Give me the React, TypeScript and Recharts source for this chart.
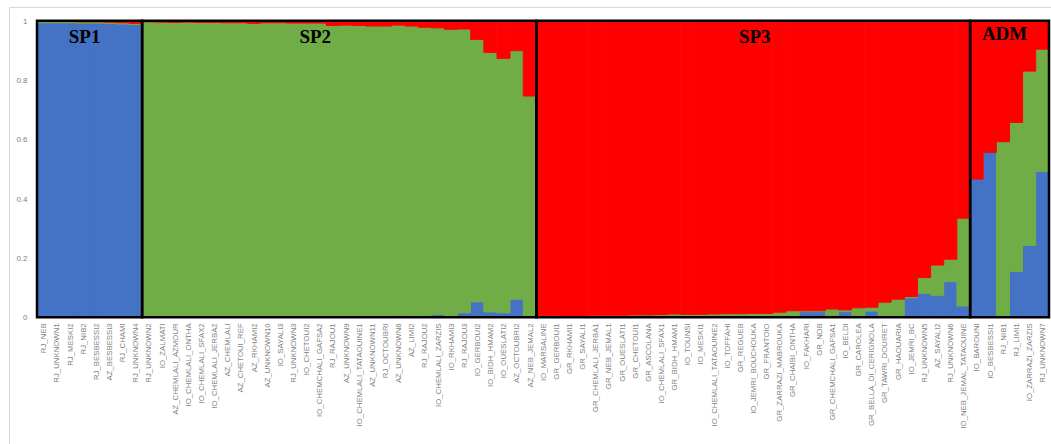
import { BarChart, Bar, XAxis, YAxis, ReferenceArea } from "recharts";

const blue = "#4472C4";
const green = "#70AD47";
const red = "#FF0000";
const tickGray = "#7f7f7f";

// individuals, left to right (SP1 | SP2 | SP3 | ADM)
const sp1Names = [
  "RJ_NEB", "RJ_UNKNOWN1", "RJ_MESKI2", "RJ_NIB2", "RJ_BESBESSI2", "AZ_BESBESSI3", "RJ_CHAMI", "RJ_UNKNOWN4",
];
const sp2Names = [
  "RJ_UNKNOWN2", "IO_ZALMATI", "AZ_CHEMLALI_AZMOUR", "IO_CHEMLALI_ONTHA", "IO_CHEMLALI_SFAX2", "IO_CHEMLALI_JERBA2",
  "AZ_CHEMLALI", "AZ_CHETOUI_REF", "AZ_RKHAMI2", "AZ_UNKNOWN10", "IO_SAYALI3", "RJ_UNKNOWN3", "IO_CHETOUI2",
  "IO_CHEMCHALI_GAFSA2", "RJ_RAJOU1", "AZ_UNKNOWN9", "IO_CHEMLALI_TATAOUINE1", "AZ_UNKNOWN11", "RJ_OCTOUBRI",
  "AZ_UNKNOWN8", "AZ_LIMI2", "RJ_RAJOU2", "IO_CHEMLALI_ZARZIS", "IO_RKHAMI3", "RJ_RAJOU3", "IO_GERBOUI2",
  "IO_BIDH_HMAM2", "IO_OUESLATI2", "AZ_OCTOUBRI2", "AZ_NEB_JEMAL2",
];
const sp3Names = [
  "IO_MARSALINE", "GR_GERBOUI1", "GR_RKHAMI1", "GR_SAYALI1", "GR_CHEMLALI_JERBA1", "GR_NEB_JEMAL1", "GR_OUESLATI1",
  "GR_CHETOUI1", "GR_ASCOLANA", "IO_CHEMLALI_SFAX1", "GR_BIDH_HMAM1", "IO_TOUNSI", "IO_MESKI1",
  "IO_CHEMLALI_TATAOUINE2", "IO_TOFFAHI", "GR_REGUEB", "IO_JEMRI_BOUCHOUKA", "GR_FRANTOIO", "GR_ZARRAZI_MABROUKA",
  "GR_CHAIBI_ONTHA", "IO_FAKHARI", "GR_NDB", "GR_CHEMCHALI_GAFSA1", "IO_BELDI", "GR_CAROLEA", "GR_BELLA_DI_CERIGNOLA",
  "GR_TAWRI_DOUIRET", "GR_HAOUARIA", "IO_JEMRI_BC", "RJ_UNKNOWN5", "AZ_SAYALI2", "RJ_UNKNOWN6", "IO_NEB_JEMAL_TATAOUINE",
];
const admNames = ["IO_BAROUNI", "IO_BESBESSI1", "RJ_NIB1", "RJ_LIMI1", "IO_ZARRAZI_ZARZIS", "RJ_UNKNOWN7"];

// membership coefficients per cluster (K=3)
const cluster1 = [
  0.993, 0.993, 0.993, 0.992, 0.992, 0.991, 0.989, 0.987,
  0.001, 0.001, 0.001, 0.001, 0.001, 0.001, 0.001, 0.001, 0.001, 0.001, 0.001, 0.001, 0.001, 0.002, 0.002,
  0.002, 0.002, 0.002, 0.002, 0.006, 0.003, 0.003, 0.010, 0.004, 0.015, 0.052, 0.018, 0.015, 0.061, 0.003,
  0.001, 0.001, 0.001, 0.001, 0.001, 0.001, 0.001, 0.001, 0.001, 0.001, 0.001, 0.001, 0.001, 0.001, 0.001,
  0.001, 0.001, 0.001, 0.002, 0.002, 0.019, 0.019, 0.002, 0.019, 0.002, 0.021, 0.002, 0.002, 0.066, 0.081,
  0.074, 0.120, 0.038,
  0.466, 0.556, 0.000, 0.154, 0.242, 0.492,
];
const cluster2 = [
  0.004, 0.004, 0.004, 0.004, 0.004, 0.004, 0.004, 0.004,
  0.995, 0.994, 0.993, 0.994, 0.993, 0.993, 0.992, 0.992, 0.990, 0.992, 0.992, 0.991, 0.991, 0.990, 0.982,
  0.983, 0.982, 0.980, 0.980, 0.979, 0.979, 0.975, 0.966, 0.967, 0.957, 0.885, 0.875, 0.858, 0.838, 0.743,
  0.004, 0.004, 0.005, 0.005, 0.006, 0.006, 0.006, 0.007, 0.007, 0.008, 0.010, 0.009, 0.009, 0.010, 0.011,
  0.011, 0.012, 0.012, 0.015, 0.020, 0.003, 0.003, 0.026, 0.006, 0.030, 0.013, 0.049, 0.059, 0.004, 0.053,
  0.102, 0.076, 0.296,
  0.000, 0.000, 0.592, 0.503, 0.588, 0.412,
];
const cluster3 = [
  0.003, 0.003, 0.003, 0.004, 0.004, 0.005, 0.007, 0.009,
  0.004, 0.005, 0.006, 0.005, 0.006, 0.006, 0.007, 0.007, 0.009, 0.007, 0.007, 0.008, 0.008, 0.008, 0.016,
  0.015, 0.016, 0.018, 0.018, 0.015, 0.018, 0.022, 0.024, 0.029, 0.028, 0.063, 0.107, 0.127, 0.101, 0.254,
  0.995, 0.995, 0.994, 0.994, 0.993, 0.993, 0.993, 0.992, 0.992, 0.991, 0.989, 0.990, 0.990, 0.989, 0.988,
  0.988, 0.987, 0.987, 0.983, 0.978, 0.978, 0.978, 0.972, 0.975, 0.968, 0.966, 0.949, 0.939, 0.930, 0.866,
  0.824, 0.804, 0.666,
  0.534, 0.444, 0.408, 0.343, 0.170, 0.096,
];

const yTicks = [0, 0.2, 0.4, 0.6, 0.8, 1];

const names = [...sp1Names, ...sp2Names, ...sp3Names, ...admNames];
const data = names.map((name, i) => ({ name, k1: cluster1[i], k2: cluster2[i], k3: cluster3[i] }));

const groups = [
  { names: sp1Names, label: "SP1", shift: -5, dy: 22.5 },
  { names: sp2Names, label: "SP2", shift: -24, dy: 22.5 },
  { names: sp3Names, label: "SP3", shift: 1.5, dy: 22.5 },
  { names: admNames, label: "ADM", shift: -5, dy: 19.5 },
];

function NameTick({ x, y, payload }: { x?: number; y?: number; payload?: { value: string } }) {
  return (
    <text
      x={x} y={y} dy="0.35em" textAnchor="end" transform={`rotate(-90, ${x}, ${y})`}
      fontSize={7.8} fontFamily="'Liberation Sans', Arial, sans-serif" fill={tickGray}
    >
      {payload?.value}
    </text>
  );
}

const groupLabel = (text: string, shift: number, dy: number) => (props: any) => {
  const vb = props.viewBox || { x: 0, y: 0, width: 0 };
  return (
    <text
      x={vb.x + vb.width / 2 + shift} y={vb.y + dy} textAnchor="middle"
      fontFamily="'Times New Roman', 'Liberation Serif', serif" fontWeight="bold" fontSize={19} fill="#000"
    >
      {text}
    </text>
  );
};

export default function App() {
  return (
    <div style={{ position: "absolute", left: 0, top: 0, width: 1051, height: 444, overflow: "hidden", background: "#fff" }}>
      <div style={{ position: "absolute", left: 9, top: 7, width: 1100, height: 500, border: "1px solid #d9d9d9" }} />
      <BarChart
        width={1051} height={444} data={data}
        margin={{ top: 20.7, right: 2, bottom: 6.7, left: 0 }}
        barCategoryGap={0} barGap={0}
      >
        <XAxis
          dataKey="name" interval={0} height={120} tick={<NameTick />}
          axisLine={false} tickLine={false} tickSize={0} tickMargin={6}
        />
        <YAxis
          domain={[0, 1]} ticks={yTicks} width={37} axisLine={false} tickLine={false} tickSize={0} tickMargin={9.5}
          tick={{ fontSize: 8, fill: tickGray, fontFamily: "'Liberation Sans', Arial, sans-serif" }}
        />
        <Bar dataKey="k1" stackId="q" fill={blue} stroke={blue} strokeWidth={1} isAnimationActive={false} />
        <Bar dataKey="k2" stackId="q" fill={green} stroke={green} strokeWidth={1} isAnimationActive={false} />
        <Bar dataKey="k3" stackId="q" fill={red} stroke={red} strokeWidth={1} isAnimationActive={false} />
        {groups.map((g) => (
          <ReferenceArea
            key={g.label} x1={g.names[0]} x2={g.names[g.names.length - 1]} y1={0} y2={1}
            fill="none" fillOpacity={0} stroke="#000" strokeWidth={2.5} ifOverflow="visible"
            zIndex={1000} label={groupLabel(g.label, g.shift, g.dy)}
          />
        ))}
      </BarChart>
    </div>
  );
}
